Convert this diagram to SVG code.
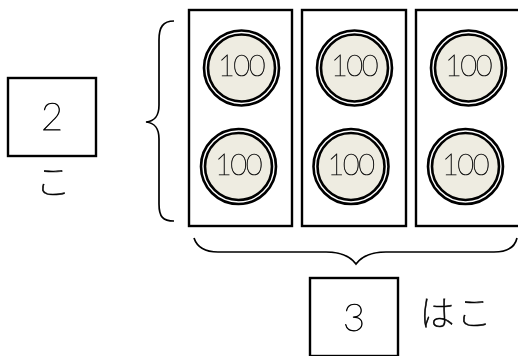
<svg xmlns="http://www.w3.org/2000/svg" width="518" height="356" viewBox="0 0 518 356">
<style>
.box{fill:#fff;stroke:#000;stroke-width:2.4}
.brace{fill:none;stroke:#000;stroke-width:1.7}
.outer{fill:#fff;stroke:#000;stroke-width:2.6}
.inner{fill:#eeece1;stroke:#000;stroke-width:2.6}
text{font-family:"Noto Sans CJK JP","Liberation Sans",sans-serif;font-weight:100;fill:#000;stroke:#000;stroke-width:.6;text-anchor:middle;filter:url(#gray)}
.c{font-family:"Lato","Liberation Sans",sans-serif;font-size:29px;letter-spacing:-1.5px;fill:#111;stroke:#111;stroke-width:.55}
.n{font-family:"Lato","Liberation Sans",sans-serif;font-size:38px;stroke-width:.75}
.k{font-size:35px}
</style>
<defs>
<filter id="gray" x="-20%" y="-20%" width="140%" height="140%" color-interpolation-filters="sRGB"><feOffset dx="0" dy="0"/></filter>
<g id="coin"><circle class="outer" r="37.5"/><circle class="inner" r="33.5"/></g>
</defs>
<g id="connectors">
<path class="brace" d="M174 21C163 21 159 27 159 40V105C159 116 155 121 146 122C155 123 159 128 159 139V204C159 217 163 221 174 221"/>
<path class="brace" d="M194 238C197 247 204 252 218 252H326C340 252 350 256 356 264C362 256 372 252 386 252H494C508 252 515 247 517 238"/>
</g>
<g id="box-a"><rect class="box" x="189" y="10" width="103" height="216"/>
<use href="#coin" x="241.5" y="68"/><text class="c" x="241" y="76">100</text>
<use href="#coin" x="238.5" y="166.500"/><text class="c" x="238" y="174.500">100</text></g>
<g id="box-b"><rect class="box" x="302" y="10" width="104" height="216"/>
<use href="#coin" x="354.500" y="68"/><text class="c" x="354" y="76">100</text>
<use href="#coin" x="351" y="166.500"/><text class="c" x="350.500" y="174.500">100</text></g>
<g id="box-c"><rect class="box" x="416" y="10" width="110" height="216"/>
<use href="#coin" x="468.500" y="68"/><text class="c" x="468" y="76">100</text>
<use href="#coin" x="465.500" y="166.500"/><text class="c" x="465" y="174.500">100</text></g>
<g id="count-2"><rect class="box" x="8" y="78" width="88" height="78"/><text class="n" x="52" y="130">2</text>
<text class="k" x="53" y="195">こ</text></g>
<g id="count-3"><rect class="box" x="310" y="278" width="88" height="78"/><text class="n" x="354" y="331">3</text>
<text class="k" x="456.500" y="326" letter-spacing="2">はこ</text></g>
</svg>
